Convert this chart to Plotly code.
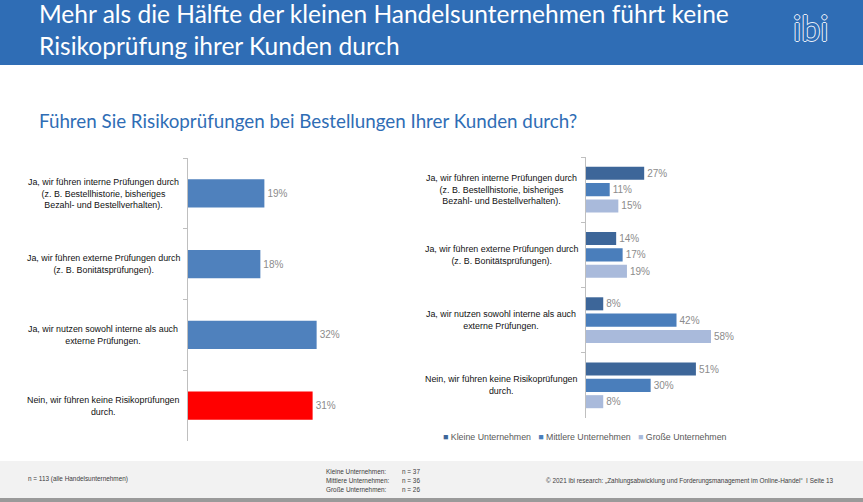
import plotly.graph_objects as go

W, H = 863, 502

categories = [
    "Ja, wir führen interne Prüfungen durch<br>(z. B. Bestellhistorie, bisheriges<br>Bezahl- und Bestellverhalten).",
    "Ja, wir führen externe Prüfungen durch<br>(z. B. Bonitätsprüfungen).",
    "Ja, wir nutzen sowohl interne als auch<br>externe Prüfungen.",
    "Nein, wir führen keine Risikoprüfungen<br>durch.",
]
total_values = [19, 18, 32, 31]
series_names = ["Kleine Unternehmen", "Mittlere Unternehmen", "Große Unternehmen"]
kleine = [27, 14, 8, 51]
mittlere = [11, 17, 42, 30]
grosse = [15, 19, 58, 8]
series_values = [kleine, mittlere, grosse]
series_colors = ["#3d6699", "#4a7ebb", "#a9badb"]

ARIAL = "Liberation Sans, Arial, sans-serif"
HEAD = "Lato, Open Sans, sans-serif"
HEADER_BLUE = "#2f6db5"

def px(v):
    return v / W

def py(v):
    return 1 - v / H

fig = go.Figure()

# left chart
fig.add_trace(go.Bar(
    x=total_values, y=categories, orientation="h",
    xaxis="x", yaxis="y", width=0.4,
    marker=dict(color=["#4f81bd", "#4f81bd", "#4f81bd", "#ff0000"],
                line=dict(width=0)),
    text=[f"{v}%" for v in total_values], textposition="outside",
    textfont=dict(family=ARIAL, size=10, color="#8c8c8c"),
    cliponaxis=False, showlegend=False, hoverinfo="skip",
))

# right chart
for name, vals, col in zip(series_names, series_values, series_colors):
    fig.add_trace(go.Bar(
        x=vals, y=categories, orientation="h", name=name,
        xaxis="x2", yaxis="y2",
        marker=dict(color=col, line=dict(width=0)),
        text=[f"{v}%" for v in vals], textposition="outside",
        textfont=dict(family=ARIAL, size=10, color="#8c8c8c"),
        cliponaxis=False, showlegend=False, hoverinfo="skip",
    ))

yax_common = dict(
    type="category", autorange="reversed", showticklabels=False,
    showline=True, linecolor="#bfbfbf", linewidth=1,
    ticks="outside", tickson="boundaries", ticklen=4, tickcolor="#bfbfbf",
    showgrid=False, zeroline=False, fixedrange=True,
)

fig.update_layout(
    width=W, height=H, margin=dict(l=0, r=0, t=0, b=0),
    paper_bgcolor="white", plot_bgcolor="white",
    barmode="group", bargap=0.25, bargroupgap=0.2,
    xaxis=dict(domain=[px(188), px(389)], range=[0, 50], visible=False,
               anchor="y", fixedrange=True),
    yaxis=dict(domain=[py(441), py(158)], anchor="x", **yax_common),
    xaxis2=dict(domain=[px(586), px(801.5)], range=[0, 100], visible=False,
                anchor="y2", fixedrange=True),
    yaxis2=dict(domain=[py(418), py(157)], anchor="x2", **yax_common),
)

shapes = [
    dict(type="rect", xref="paper", yref="paper", x0=0, x1=1, y0=py(65), y1=1,
         fillcolor=HEADER_BLUE, line=dict(width=0), layer="below"),
    dict(type="rect", xref="paper", yref="paper", x0=0, x1=1, y0=py(498), y1=py(461),
         fillcolor="#f2f2f2", line=dict(width=0), layer="below"),
    dict(type="rect", xref="paper", yref="paper", x0=0, x1=1, y0=0, y1=py(498),
         fillcolor="#9a9a9a", line=dict(width=0), layer="below"),
]
fig.update_layout(shapes=shapes)

ann = []
ann.append(dict(text="Mehr als die Hälfte der kleinen Handelsunternehmen führt keine<br>Risikoprüfung ihrer Kunden durch",
                x=px(37), y=py(30), xref="paper", yref="paper", xanchor="left", yanchor="middle",
                align="left", showarrow=False, font=dict(family=HEAD, size=24.5, color="white")))
ann.append(dict(text="ibi", x=px(810), y=py(28), xref="paper", yref="paper", xanchor="center",
                yanchor="middle", showarrow=False,
                font=dict(family=HEAD, size=34, color=HEADER_BLUE,
                          shadow="1px 0 0 #e8eef8, -1px 0 0 #e8eef8, 0 1px 0 #e8eef8, 0 -1px 0 #e8eef8")))
ann.append(dict(text="Führen Sie Risikoprüfungen bei Bestellungen Ihrer Kunden durch?",
                x=px(37), y=py(120), xref="paper", yref="paper", xanchor="left", yanchor="middle",
                showarrow=False, font=dict(family=HEAD, size=18.8, color=HEADER_BLUE)))

for c in categories:
    ann.append(dict(text=c, x=px(103), y=c, xref="paper", yref="y", xanchor="center",
                    yanchor="middle", align="center", showarrow=False,
                    font=dict(family=ARIAL, size=8.9, color="#111111")))
    ann.append(dict(text=c, x=px(501), y=c, xref="paper", yref="y2", xanchor="center",
                    yanchor="middle", align="center", showarrow=False,
                    font=dict(family=ARIAL, size=8.9, color="#111111")))

# legend built as text
legend_txt = "   ".join(
    f"<span style='color:{col}'>■</span> {name}" for name, col in zip(series_names, series_colors)
)
ann.append(dict(text=legend_txt, x=px(441), y=py(437), xref="paper", yref="paper",
                xanchor="left", yanchor="middle", showarrow=False,
                font=dict(family=ARIAL, size=8.8, color="#595959")))

# footer
FOOT = dict(family=ARIAL, size=6.4, color="#404040")
ann.append(dict(text="n = 113 (alle Handelsunternehmen)", x=px(26), y=py(479), xref="paper",
                yref="paper", xanchor="left", yanchor="middle", showarrow=False, font=FOOT))
foot_labels = ["Kleine Unternehmen:", "Mittlere Unternehmen:", "Große Unternehmen:"]
foot_n = ["n = 37", "n = 36", "n = 26"]
for i, (lab, n) in enumerate(zip(foot_labels, foot_n)):
    yy = [471, 480, 489][i]
    ann.append(dict(text=lab, x=px(324), y=py(yy), xref="paper", yref="paper", xanchor="left",
                    yanchor="middle", showarrow=False, font=FOOT))
    ann.append(dict(text=n, x=px(400), y=py(yy), xref="paper", yref="paper", xanchor="left",
                    yanchor="middle", showarrow=False, font=FOOT))
ann.append(dict(text="© 2021 ibi research: „Zahlungsabwicklung und Forderungsmanagement im Online-Handel“  I Seite 13",
                x=px(836), y=py(481), xref="paper", yref="paper", xanchor="right", yanchor="middle",
                showarrow=False, font=FOOT))

fig.update_layout(annotations=ann)

fig.write_html("out.html", config={"displayModeBar": False},
               post_script="document.body.style.margin='0';document.body.style.padding='0';")
